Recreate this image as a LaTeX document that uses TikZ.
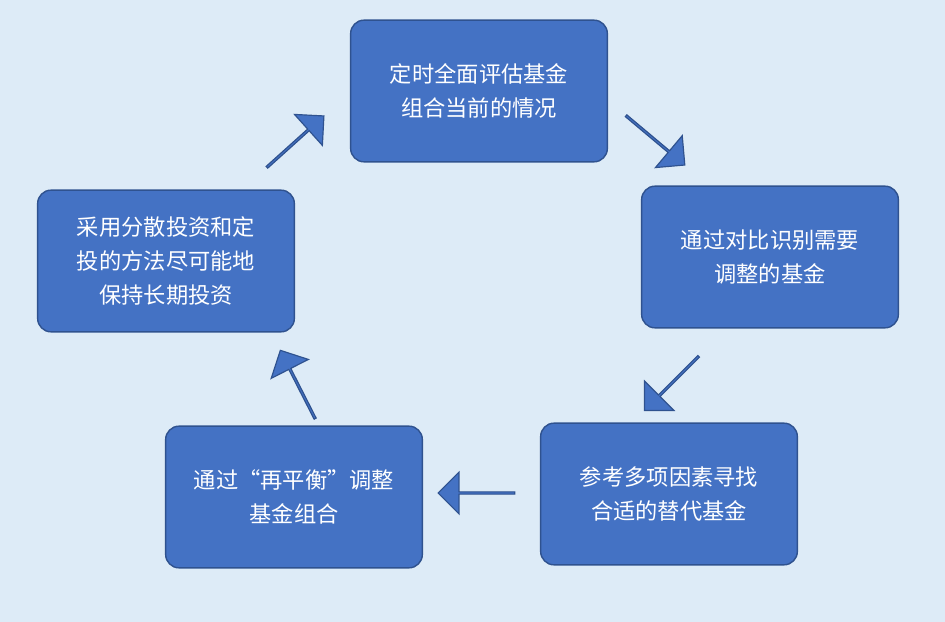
\documentclass[tikz,border=0pt]{standalone}
\usepackage{fontspec}
\newfontfamily\cjk{Noto Sans CJK SC}
\usetikzlibrary{shapes.arrows}
\definecolor{bgblue}{HTML}{DDEBF7}
\definecolor{boxblue}{HTML}{4472C4}
\definecolor{edgeblue}{HTML}{2F528F}
\begin{document}
\begin{tikzpicture}[
  x=0.03cm,y=-0.03cm,
  phase/.style={draw=edgeblue,line width=1.2pt,fill=boxblue,rounded corners=4mm,
    minimum width=7.7cm,minimum height=4.25cm,align=center,text=white,
    font=\cjk\fontsize{19}{29}\selectfont},
  blockarr/.style={single arrow,draw=edgeblue,line width=1pt,fill=boxblue,
    minimum height=2.3cm,minimum width=1.25cm,single arrow head extend=0.3cm,inner sep=0pt}
]
\fill[bgblue] (0,0) rectangle (945,622);
\node[phase] (eval)  at (479,91)  {定时全面评估基金\\组合当前的情况};
\node[phase] (find)  at (770,257) {通过对比识别需要\\调整的基金};
\node[phase] (subst) at (669,494) {参考多项因素寻找\\合适的替代基金};
\node[phase] (rebal) at (294,497) {通过“再平衡”调整\\基金组合};
\node[phase] (hold)  at (166,261) {采用分散投资和定\\投的方法尽可能地\\保持长期投资};
\node[blockarr,rotate=42]   (a1) at (295,142) {};
\node[blockarr,rotate=-40]  (a2) at (655,140) {};
\node[blockarr,rotate=-135] (a3) at (672,383) {};
\node[blockarr,rotate=180]  (a4) at (477,493) {};
\node[blockarr,rotate=117]  (a5) at (298,385) {};
\end{tikzpicture}
\end{document}
